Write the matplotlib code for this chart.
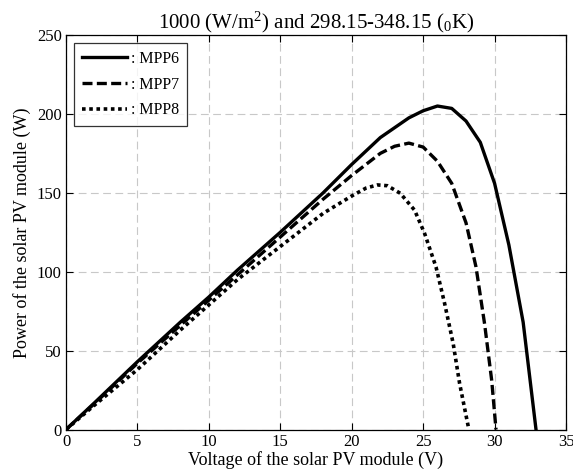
import matplotlib
matplotlib.use("Agg")
import matplotlib.pyplot as plt

plt.rcParams['font.family'] = ['Liberation Serif', 'DejaVu Serif']
plt.rcParams['mathtext.fontset'] = 'custom'
plt.rcParams['mathtext.rm'] = 'Liberation Serif'
plt.rcParams['mathtext.it'] = 'Liberation Serif:italic'

# Data
v_mpp6 = [0, 2, 5, 8, 10, 12, 15, 18, 20, 22, 24, 25, 26, 27, 28, 29, 30, 31, 32, 32.9]
p_mpp6 = [0, 17, 43, 68, 84, 101, 125, 150, 168, 185, 197.5, 202, 205, 203.5, 195.5, 182, 156, 117, 68, 0]

v_mpp7 = [0, 2, 5, 8, 10, 12, 15, 18, 20, 22, 23, 24, 25, 26, 27, 28, 28.7, 29.3, 29.8, 30.1]
p_mpp7 = [0, 16.5, 42, 66, 82, 98, 122, 146, 161, 175, 179.5, 181.5, 179, 170, 156, 131, 103, 67, 31, 0]

v_mpp8 = [0, 2, 5, 8, 10, 12, 15, 18, 20, 21, 21.8, 22.5, 23.4, 24.4, 25.1, 25.9, 26.5, 27.1, 27.55, 28.2]
p_mpp8 = [0, 15.5, 38, 63, 79, 95, 116, 137, 148, 153, 155, 154.5, 149.7, 139, 124.3, 103, 80, 54.6, 29.3, 0]

labels = [': MPP6', ': MPP7', ': MPP8']
x_ticks = [0, 5, 10, 15, 20, 25, 30, 35]
y_ticks = [0, 50, 100, 150, 200, 250]

fig = plt.figure(figsize=(5.73, 4.72), dpi=100)
ax = fig.add_axes([0.1152, 0.09, 0.8726, 0.8358])

ax.plot(v_mpp6, p_mpp6, color='black', lw=2.4, linestyle='-', label=labels[0])
ax.plot(v_mpp7, p_mpp7, color='black', lw=2.4, linestyle=(0, (3, 1.3)), label=labels[1])
ax.plot(v_mpp8, p_mpp8, color='black', lw=2.6, linestyle=(0, (1, 1)), label=labels[2])

ax.set_xlim(0, 35)
ax.set_ylim(0, 250)
ax.set_xticks(x_ticks)
ax.set_yticks(y_ticks)
ax.tick_params(direction='in', top=True, right=True, labelsize=12, length=5, width=0.8, pad=3)
ax.grid(True, color='#c8c8c8', linestyle=(0, (7, 4)), linewidth=0.8)
for s in ax.spines.values():
    s.set_linewidth(0.9)
    s.set_color('black')

ax.set_xlabel('Voltage of the solar PV module (V)', fontsize=13, labelpad=1)
ax.set_ylabel('Power of the solar PV module (W)', fontsize=13, labelpad=4)
ax.set_title('1000 (W/m$^{2}$) and 298.15-348.15 ($_{0}$K)', fontsize=15, pad=5)

leg = ax.legend(loc='upper left', fontsize=11.5, handlelength=2.8, frameon=True, fancybox=False,
                edgecolor='black', borderaxespad=0.5, handletextpad=0.25, labelspacing=0.6,
                borderpad=0.5)
leg.get_frame().set_linewidth(0.9)

fig.savefig('out.png', dpi=100)
